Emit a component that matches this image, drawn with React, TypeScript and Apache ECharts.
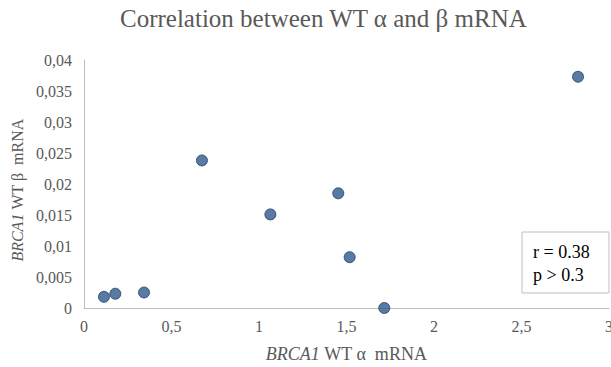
import React, { useEffect, useRef } from "react";
import * as echarts from "echarts";

const alphaValues = [0.114, 0.179, 0.343, 0.674, 1.065, 1.453, 1.518, 1.716, 2.823];
const betaValues = [0.0018, 0.0023, 0.0025, 0.0238, 0.0151, 0.0185, 0.0082, 0.0, 0.0373];
const titleText = "Correlation between WT α and β mRNA";
const statLines = ["r = 0.38", "p > 0.3"];

const FONT = "Liberation Serif";

function fmt(v: number): string {
  return String(Number(v.toFixed(4))).replace(".", ",");
}

export default function App() {
  const ref = useRef<HTMLDivElement>(null);
  useEffect(() => {
    if (!ref.current) return;
    const chart = echarts.init(ref.current, undefined, { renderer: "svg" });
    const data = alphaValues.map((x, i) => [x, betaValues[i]]);
    chart.setOption({
      animation: false,
      backgroundColor: "#ffffff",
      textStyle: { fontFamily: FONT },
      title: {
        text: titleText,
        left: 115,
        top: 1,
        textStyle: { fontFamily: FONT, fontSize: 25, fontWeight: "normal", color: "#595959" },
      },
      grid: { left: 84, right: 2, top: 60, bottom: 59, containLabel: false, outerBoundsMode: "none" },
      xAxis: {
        type: "value",
        min: 0,
        max: 3,
        interval: 0.5,
        splitLine: { show: false },
        axisTick: { show: false },
        axisLine: { show: true, lineStyle: { color: "#bfbfbf", width: 1 } },
        axisLabel: { fontFamily: FONT, fontSize: 16, color: "#595959", margin: 10, formatter: fmt },
        name: "{i|BRCA1} WT α  mRNA",
        nameLocation: "middle",
        nameGap: 37,
        nameTextStyle: {
          fontFamily: FONT,
          fontSize: 18,
          color: "#595959",
          rich: { i: { fontStyle: "italic", fontFamily: FONT, fontSize: 18, color: "#595959" } },
        },
      },
      yAxis: {
        type: "value",
        min: 0,
        max: 0.04,
        interval: 0.005,
        splitLine: { show: false },
        axisTick: { show: false },
        axisLine: { show: true, lineStyle: { color: "#bfbfbf", width: 1 } },
        axisLabel: { fontFamily: FONT, fontSize: 16, color: "#595959", margin: 12, formatter: fmt },
        name: "{i|BRCA1} WT β  mRNA",
        nameLocation: "middle",
        nameRotate: 90,
        nameGap: 54,
        nameTextStyle: {
          fontFamily: FONT,
          fontSize: 16,
          color: "#595959",
          padding: [0, 12, 0, 0],
          rich: { i: { fontStyle: "italic", fontFamily: FONT, fontSize: 16, color: "#595959" } },
        },
      },
      series: [
        {
          type: "scatter",
          data,
          symbol: "circle",
          symbolSize: 11,
          itemStyle: { color: "#2E5A8C", borderColor: "#1F3D63", borderWidth: 1 },
        },
      ],
      graphic: [
        {
          type: "rect",
          shape: { x: 522, y: 232, width: 87, height: 61 },
          style: { fill: "#ffffff", stroke: "#bfbfbf", lineWidth: 1 },
          z: 10,
        },
        {
          type: "text",
          x: 533,
          y: 252,
          style: { text: statLines[0], fontFamily: FONT, fontSize: 18, fill: "#000000", verticalAlign: "middle" },
          z: 11,
        },
        {
          type: "text",
          x: 533,
          y: 275,
          style: { text: statLines[1], fontFamily: FONT, fontSize: 18, fill: "#000000", verticalAlign: "middle" },
          z: 11,
        },
      ],
    });
    return () => chart.dispose();
  }, []);
  return (
    <div
      ref={ref}
      style={{ position: "fixed", left: 0, top: 0, width: 611, height: 367 }}
    />
  );
}
